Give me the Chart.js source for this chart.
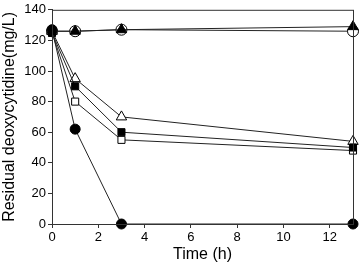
<!DOCTYPE html>
<html>
<head>
<meta charset="utf-8">
<script src="https://cdn.jsdelivr.net/npm/chart.js@4/dist/chart.umd.min.js"></script>
<style>
  html, body { margin: 0; padding: 0; background: #fff; }
  #wrap { width: 360px; height: 268px; }
</style>
</head>
<body>
<div id="wrap"><canvas id="chart"></canvas></div>
<script>
// Datos
const times = [0, 1, 3, 13];
const filledCircle = [127, 62, 0, 0];
const openSquare = [125, 80, 55, 48];
const filledSquare = [125, 90, 60, 50];
const openTriangle = [126, 95, 70, 54];
const filledTriangle = [126, 126, 127, 129];
const openCircle = [126, 126, 127, 126];
const xTicks = [0, 2, 4, 6, 8, 10, 12];

const toXY = arr => arr.map((v, i) => ({ x: times[i], y: v }));

function serie(data, style, fill, radius) {
    return {
        data: toXY(data),
        borderColor: '#222',
        borderWidth: 1,
        pointStyle: style,
        pointRadius: radius,
        pointBackgroundColor: fill,
        pointBorderColor: '#000',
        pointBorderWidth: 1,
        clip: false
    };
}

// Marco completo alrededor del área
const frame = {
    id: 'frame',
    afterDraw(chart) {
        const { ctx, chartArea: a } = chart;
        ctx.save();
        ctx.strokeStyle = '#333';
        ctx.lineWidth = 1;
        ctx.strokeRect(a.left + 0.5, a.top + 0.5, a.right - a.left, a.bottom - a.top);
        ctx.restore();
    }
};

// El primer dataset queda dibujado encima
new Chart(document.getElementById('chart'), {
    type: 'line',
    data: {
        datasets: [
            serie(filledCircle, 'circle', '#000', 5),
            serie(filledSquare, 'rect', '#000', 5),
            serie(openSquare, 'rect', '#fff', 5),
            serie(openTriangle, 'triangle', '#fff', 6),
            serie(filledTriangle, 'triangle', '#000', 6),
            serie(openCircle, 'circle', '#fff', 5.5)
        ]
    },
    options: {
        responsive: true,
        maintainAspectRatio: false,
        animation: false,
        layout: { padding: { top: 6, right: 5, left: 0, bottom: 0 } },
        plugins: { legend: { display: false }, tooltip: { enabled: false } },
        scales: {
            x: {
                type: 'linear',
                min: 0, max: 13,
                afterBuildTicks: s => { s.ticks = xTicks.map(v => ({ value: v })); },
                afterFit: s => { s.height = 44; },
                grid: { drawOnChartArea: false, tickLength: 4, color: '#333' },
                border: { color: '#333' },
                ticks: { color: '#000', padding: 2, font: { family: 'Liberation Sans', size: 13 } },
                title: { display: true, text: 'Time (h)', color: '#000', padding: { top: 2 },
                         font: { family: 'Liberation Sans', size: 16 } }
            },
            y: {
                min: 0, max: 140,
                afterFit: s => { s.width = 52; },
                grid: { drawOnChartArea: false, tickLength: 4, color: '#333' },
                border: { color: '#333' },
                ticks: { stepSize: 20, color: '#000', padding: 2, font: { family: 'Liberation Sans', size: 13 } },
                title: { display: true, text: 'Residual deoxycytidine(mg/L)', color: '#000', padding: 0,
                         font: { family: 'Liberation Sans', size: 16 } }
            }
        }
    },
    plugins: [frame]
});
</script>
</body>
</html>
